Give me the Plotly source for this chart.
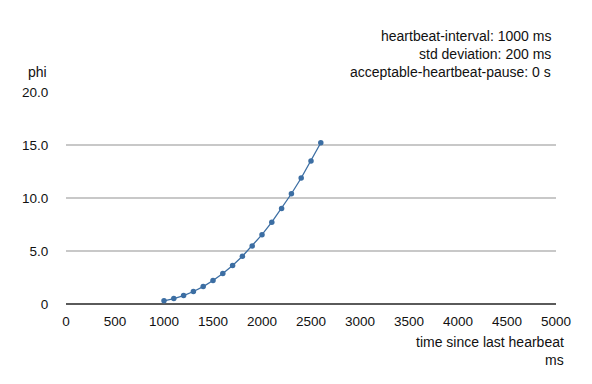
import plotly.graph_objects as go

time_ms = [1000, 1100, 1200, 1300, 1400, 1500, 1600, 1700, 1800, 1900,
           2000, 2100, 2200, 2300, 2400, 2500, 2600]
phi = [0.30, 0.51, 0.80, 1.18, 1.64, 2.21, 2.87, 3.63, 4.50, 5.47,
       6.54, 7.72, 9.01, 10.40, 11.89, 13.50, 15.21]
y_ticks = [0, 5, 10, 15, 20]
y_tick_labels = ["0", "5.0", "10.0", "15.0", "20.0"]
x_ticks = [0, 500, 1000, 1500, 2000, 2500, 3000, 3500, 4000, 4500, 5000]
info_lines = ["heartbeat-interval: 1000 ms", "std deviation: 200 ms",
              "acceptable-heartbeat-pause: 0 s"]

FONT = "Liberation Sans, Arial, Helvetica, sans-serif"
OFF = 8  # page body margin
W, H = 592 - OFF, 384 - OFF
L, T = 66 - OFF, 92 - OFF
R = W - (556 - OFF)
B = H - (304 - OFF)
pw, ph = W - L - R, H - T - B

def px_x(p):
    return (p - OFF - L) / pw

def px_y(p):
    return (H - B - (p - OFF)) / ph

fig = go.Figure()
fig.add_trace(go.Scatter(
    x=time_ms, y=phi, mode="lines+markers",
    line=dict(color="#3c6ea3", width=1.3),
    marker=dict(color="#3c6ea3", size=5.5),
    showlegend=False, cliponaxis=False,
))

TXT = dict(family=FONT, size=14, color="#111")
annotations = []
for i, t in enumerate(info_lines):
    annotations.append(dict(
        text=t, xref="paper", yref="paper", x=px_x(553), y=px_y(36 + 18 * i),
        xanchor="right", yanchor="middle", showarrow=False, font=TXT))
annotations.append(dict(text="phi", xref="paper", yref="paper", x=px_x(49), y=px_y(72),
                        xanchor="right", yanchor="middle", showarrow=False, font=TXT))
annotations.append(dict(text="time since last hearbeat", xref="paper", yref="paper",
                        x=px_x(566), y=px_y(342), xanchor="right", yanchor="middle",
                        showarrow=False, font=TXT))
annotations.append(dict(text="ms", xref="paper", yref="paper",
                        x=px_x(566), y=px_y(360), xanchor="right", yanchor="middle",
                        showarrow=False, font=TXT))

TICKF = dict(family=FONT, size=13.5, color="#111")
fig.update_layout(
    width=W, height=H,
    margin=dict(l=L, r=R, t=T, b=B, pad=0),
    paper_bgcolor="white", plot_bgcolor="white",
    font=dict(family=FONT, size=13.5, color="#111"),
    xaxis=dict(range=[0, 5000], tickvals=x_ticks, showgrid=False, zeroline=False,
               showline=False, ticks="outside", ticklen=5, tickcolor="rgba(0,0,0,0)",
               tickfont=TICKF, fixedrange=True),
    yaxis=dict(range=[0, 20], tickvals=y_ticks, ticktext=y_tick_labels,
               showgrid=True, gridcolor="#c8c8c8", gridwidth=1.5,
               zeroline=True, zerolinecolor="#5a5a5a", zerolinewidth=2,
               showline=False, ticks="outside", ticklen=14, tickcolor="rgba(0,0,0,0)",
               tickfont=TICKF, fixedrange=True),
    annotations=annotations,
)

fig.write_html("out.html")
